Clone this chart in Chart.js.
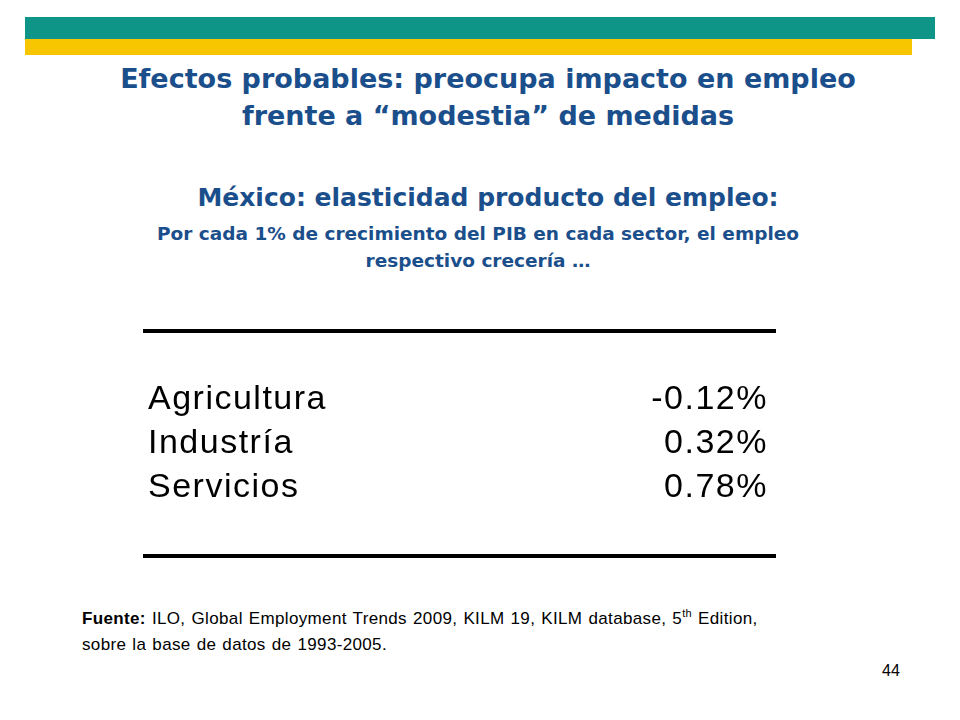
<!DOCTYPE html>
<html><head><meta charset="utf-8">
<script src="https://cdn.jsdelivr.net/npm/chart.js"></script>
<style>
body{margin:0;width:960px;height:720px;background:#fff;position:relative;overflow:hidden;font-family:"DejaVu Sans",sans-serif}
.a{position:absolute}
.t{color:#1b4f8c;font-weight:bold;text-align:center;width:960px;left:8px;white-space:nowrap}
</style></head><body>
<div class="a" style="left:25px;top:17px;width:910px;height:22px;background:#0f9488"></div>
<div class="a" style="left:25px;top:39px;width:887px;height:16px;background:#f7c600"></div>
<div class="a t" style="top:60px;font-size:27px;line-height:37px">Efectos probables: preocupa impacto en empleo<br>frente a “modestia” de medidas</div>
<div class="a t" style="top:183px;font-size:25px">México: elasticidad producto del empleo:</div>
<div class="a t" style="top:220px;font-size:18.5px;line-height:27px;left:-2px">Por cada 1% de crecimiento del PIB en cada sector, el empleo<br>respectivo crecería …</div>
<div class="a" style="left:143px;top:329px;width:633px;height:4px;background:#000"></div>
<div class="a" style="left:143px;top:554px;width:633px;height:4px;background:#000"></div>
<div class="a" style="left:143px;top:378px;width:633px;height:132px"><canvas id="c"></canvas></div>
<div class="a" style="left:82px;top:600px;font-family:'Liberation Sans',Arial;font-size:17px;line-height:26px;letter-spacing:0.35px;word-spacing:1px">
<b>Fuente:</b> ILO, Global Employment Trends 2009, KILM 19, KILM database, 5<sup style="font-size:11px">th</sup> Edition,<br>sobre la base de datos de 1993-2005.</div>
<div class="a" style="left:882px;top:662px;font-family:'Liberation Sans',Arial;font-size:16px">44</div>
<script>
const categories=["Agricultura","Industría","Servicios"];
const values=[-0.12,0.32,0.78];
const valueLabels=["-0.12%","0.32%","0.78%"];
const textRows={id:'textRows',afterDraw(ch){
 const ctx=ch.ctx,y=ch.scales.y,a=ch.chartArea;
 ctx.save();ctx.font='34px "Liberation Sans", Arial';ctx.fillStyle='#000';ctx.textBaseline='middle';
 ctx.letterSpacing='1.5px';
 categories.forEach((c,i)=>{const yy=y.getPixelForValue(i);
  ctx.textAlign='left';ctx.fillText(c,a.left+5,yy);
  ctx.textAlign='right';ctx.fillText(valueLabels[i],a.right-8,yy);});
 ctx.restore();}};
new Chart(document.getElementById('c'),{type:'bar',
 data:{labels:categories,datasets:[{data:values,backgroundColor:'rgba(0,0,0,0)'}]},
 options:{indexAxis:'y',responsive:true,maintainAspectRatio:false,animation:false,
  layout:{padding:0},plugins:{legend:{display:false},tooltip:{enabled:false}},
  scales:{x:{display:false,min:-1,max:1},y:{display:false}}},
 plugins:[textRows]});
</script></body></html>
